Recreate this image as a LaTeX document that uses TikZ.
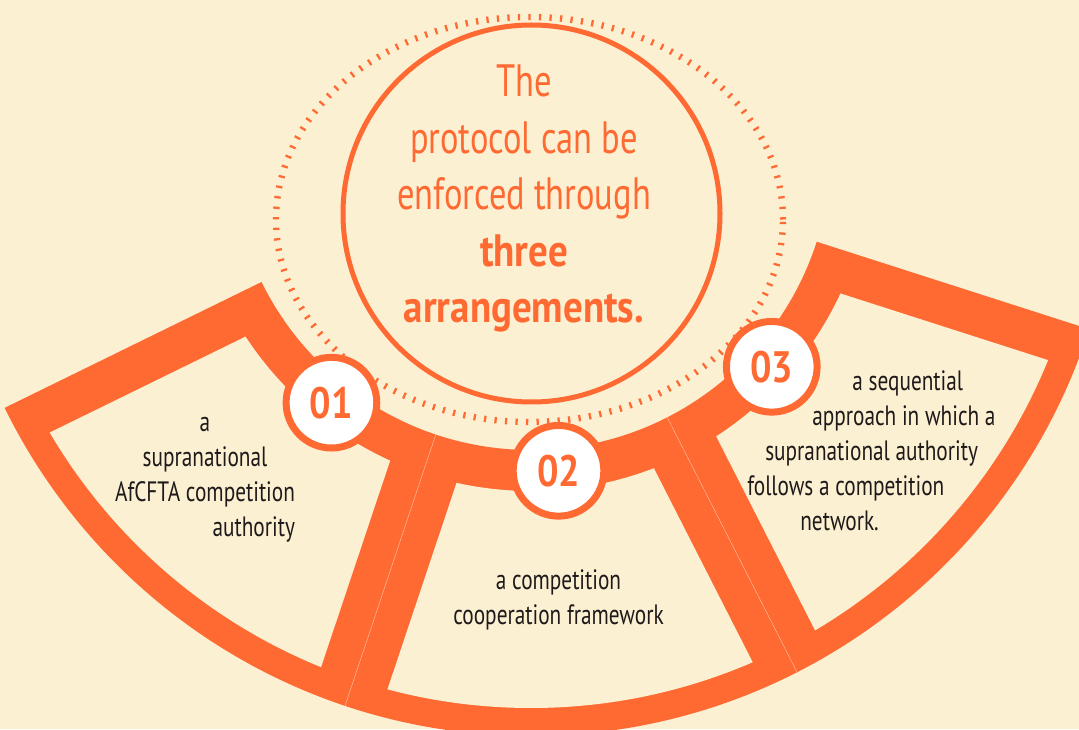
\documentclass[tikz,border=0pt]{standalone}
\usepackage{fontspec}
\setmainfont[FakeStretch=0.76, BoldFeatures={FakeStretch=0.86}]{PT Sans}
\definecolor{accent}{HTML}{FF6A33}
\definecolor{paper}{HTML}{FCF0D3}
\definecolor{ink}{HTML}{1E1A1A}
\tikzset{
    numdisc/.style = {circle, line width=5.25pt, draw=accent, fill=white, minimum size=68pt, inner sep=0pt, text=accent, font=\bfseries\fontsize{33}{33}\selectfont},
    titletext/.style = {align=center, inner sep=0pt, text=accent, font=\fontsize{34}{42.4}\selectfont},
    bodytext/.style = {inner sep=0pt, text=ink, font=\fontsize{21}{26.25}\selectfont},
    seam/.style = {line width=0.3pt, paper!65!accent}, % thin line between two arms
}

\begin{document}
\begin{tikzpicture}[x=0.75pt, y=0.75pt]
\useasboundingbox (0,0) rectangle (1079,729);
\clip (0,0) rectangle (1079,729);
\fill[paper] (0,0) rectangle (1079,729);

\coordinate (C) at (531,579);
\coordinate (M) at (531.5,515.5);

% ring of ticks and the circle
\draw[accent, line width=4.8pt, dash pattern=on 1.7pt off 6.2pt] (529.5,509.5) ellipse [x radius=253.5, y radius=202.5];
\draw[accent, line width=3.75pt] (M) circle (188.5);

% the three arms
\foreach \a/\b/\wa/\wb in {206.1/251.5/42/35, 251.5/297/35/35, 297/342.2/35/42}{
  \begin{scope}
    \clip[shift={(C)}, rotate=\a] (-700,0) rectangle (700,700);
    \clip[shift={(C)}, rotate=\b] (-700,0) rectangle (700,-700);
    \fill[accent, even odd rule] (C) circle (586) (C) circle (300);
  \end{scope}
  \begin{scope}
    \clip[shift={(C)}, rotate=\a] (-700,\wa) rectangle (700,700);
    \clip[shift={(C)}, rotate=\b] (-700,-\wb) rectangle (700,-700);
    \fill[paper, even odd rule] (C) circle (558) (C) circle (341);
  \end{scope}
}
\draw[seam] ([shift={(251.5:300)}]C) -- ([shift={(251.5:586)}]C);
\draw[seam] ([shift={(297:300)}]C) -- ([shift={(297:586)}]C);

\node[numdisc] (n1) at ([shift={(231.7:322)}]C) {01};
\node[numdisc] (n2) at ([shift={(274.9:322)}]C) {02};
\node[numdisc] (n3) at ([shift={(318:324)}]C) {03};

% base = baseline of the last line
\node[titletext, anchor=base] (title) at (524,406) {The\\protocol can be\\enforced through\\\textbf{three}\\\textbf{arrangements.}};

\node[bodytext, align=center, anchor=base] (t1) at (205,227) {a\\supranational\\\begin{tabular}[t]{@{}r@{}}AfCFTA competition\\authority\end{tabular}};
\node[bodytext, align=center, anchor=base] (t2) at (558.5,104) {a competition\\cooperation framework};
\node[bodytext, align=left, anchor=base west] (t3) at (747,199) {\hspace*{78.8pt}a sequential\\\hspace*{48.8pt}approach in which a\\\hspace*{13.5pt}supranational authority\\follows a competition\\\hspace*{39.8pt}network.};

\end{tikzpicture}
\end{document}
